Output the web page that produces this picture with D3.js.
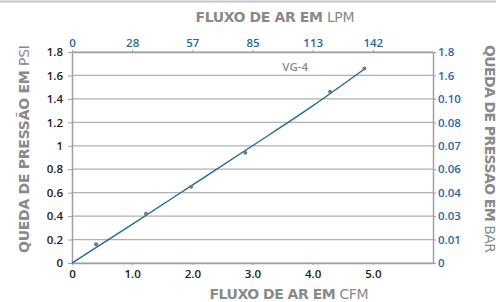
<!DOCTYPE html>
<html>
<head>
<meta charset="utf-8">
<script src="https://cdn.jsdelivr.net/npm/d3@7"></script>
<style>
  body { margin: 0; background: #fff; }
  text { font-family: "Open Sans", sans-serif; }
  .axis-left text, .axis-bottom text { fill: #222; font-size: 11.5px; font-weight: 600; }
  .axis-top text, .axis-right text { fill: #1f6aa5; font-size: 11.5px; font-weight: 600; }
  .axis-title { fill: #8a8a8a; font-family: "DejaVu Sans", sans-serif; font-weight: 700; }
</style>
</head>
<body>
<div id="chart"></div>
<script>
// Data
const cfmTicks = [0, 1, 2, 3, 4, 5];
const cfmLabels = ["0", "1.0", "2.0", "3.0", "4.0", "5.0"];
const lpmLabels = ["0", "28", "57", "85", "113", "142"];
const psiTicks = [0, 0.2, 0.4, 0.6, 0.8, 1, 1.2, 1.4, 1.6, 1.8];
const psiLabels = ["0", "0.2", "0.4", "0.6", "0.8", "1", "1.2", "1.4", "1.6", "1.8"];
const barLabels = ["0", "0.01", "0.03", "0.04", "0.06", "0.07", "0.08", "0.10", "1.6", "1.8"];

const pointsCfm = [0.40, 1.23, 1.98, 2.88, 4.29, 4.86];
const pointsPsi = [0.16, 0.42, 0.65, 0.94, 1.46, 1.66];

const lineCfm = [0, 1, 2, 3, 4, 4.86];
const linePsi = [0, 0.33, 0.665, 1.0, 1.34, 1.655];

const seriesName = "VG-4";

// Dimensions
const width = 496;
const height = 302;
const margin = { top: 52, right: 63, bottom: 39, left: 72 };
const innerWidth = width - margin.left - margin.right;
const innerHeight = height - margin.top - margin.bottom;

const svg = d3.select("#chart")
  .append("svg")
    .attr("width", width)
    .attr("height", height);

// top border line of the picture
svg.append("line")
  .attr("x1", 0).attr("x2", width)
  .attr("y1", 1.5).attr("y2", 1.5)
  .attr("stroke", "#c4c4c4")
  .attr("stroke-width", 2);

const innerChart = svg.append("g")
  .attr("transform", `translate(${margin.left}, ${margin.top})`);

// Scales
const xScale = d3.scaleLinear()
  .domain([0, 6])
  .range([0, innerWidth]);

const yScale = d3.scaleLinear()
  .domain([0, 1.8])
  .range([innerHeight, 0]);

// Gridlines
innerChart.append("g")
  .selectAll("line")
  .data(psiTicks)
  .join("line")
    .attr("x1", 0)
    .attr("x2", innerWidth)
    .attr("y1", d => yScale(d))
    .attr("y2", d => yScale(d))
    .attr("stroke", "#b0b0b0")
    .attr("stroke-width", 1.2);

// Axes
const styleAxis = g => {
  g.select(".domain").attr("stroke", "#a0a0a0").attr("stroke-width", 1.5);
  g.selectAll(".tick line").attr("stroke", "#a0a0a0");
};

innerChart.append("g")
  .attr("class", "axis-left")
  .call(d3.axisLeft(yScale).tickValues(psiTicks)
    .tickFormat((d, i) => psiLabels[i]).tickSize(4).tickPadding(5).tickSizeOuter(0))
  .call(styleAxis);

innerChart.append("g")
  .attr("class", "axis-right")
  .attr("transform", `translate(${innerWidth}, 0)`)
  .call(d3.axisRight(yScale).tickValues(psiTicks)
    .tickFormat((d, i) => barLabels[i]).tickSize(3).tickPadding(2).tickSizeOuter(0))
  .call(styleAxis);

innerChart.append("g")
  .attr("class", "axis-bottom")
  .attr("transform", `translate(0, ${innerHeight})`)
  .call(d3.axisBottom(xScale).tickValues(cfmTicks)
    .tickFormat((d, i) => cfmLabels[i]).tickSize(2).tickPadding(5).tickSizeOuter(0))
  .call(styleAxis);

innerChart.append("g")
  .attr("class", "axis-top")
  .call(d3.axisTop(xScale).tickValues(cfmTicks)
    .tickFormat((d, i) => lpmLabels[i]).tickSize(2).tickPadding(3).tickSizeOuter(0))
  .call(styleAxis);

// Trend line
const lineData = lineCfm.map((x, i) => ({ x, y: linePsi[i] }));
const curveGenerator = d3.line()
  .x(d => xScale(d.x))
  .y(d => yScale(d.y))
  .curve(d3.curveMonotoneX);

innerChart.append("path")
  .attr("d", curveGenerator(lineData))
  .attr("fill", "none")
  .attr("stroke", "#1f6aa5")
  .attr("stroke-width", 1.4);

// Data points
innerChart.selectAll(".data-point")
  .data(pointsCfm.map((x, i) => ({ x, y: pointsPsi[i] })))
  .join("circle")
    .attr("class", "data-point")
    .attr("r", 2)
    .attr("cx", d => xScale(d.x))
    .attr("cy", d => yScale(d.y))
    .attr("fill", "#777");

// Series label
innerChart.append("text")
  .attr("x", xScale(3.71))
  .attr("y", yScale(1.66))
  .attr("text-anchor", "middle")
  .attr("dominant-baseline", "middle")
  .attr("fill", "#8a8a8a")
  .attr("font-size", 11.5)
  .attr("font-weight", 600)
  .text(seriesName);

// Axis titles
const addTitle = (x, y, angle, size, len, boldPart, lightPart) => {
  const t = svg.append("text")
    .attr("class", "axis-title")
    .attr("transform", `translate(${x}, ${y}) rotate(${angle})`)
    .attr("x", -len / 2)
    .attr("font-size", size)
    .attr("dominant-baseline", "middle")
    .attr("textLength", len)
    .attr("lengthAdjust", "spacing");
  t.append("tspan").text(boldPart);
  t.append("tspan").attr("font-weight", 400).text(lightPart);
  return t;
};

addTitle(275, 18, 0, 14, 159, "FLUXO DE AR EM ", "LPM");
addTitle(289, 295, 0, 14, 159, "FLUXO DE AR EM ", "CFM");
addTitle(25, 149, -90, 14, 208, "QUEDA DE PRESSÃO EM ", "PSI");
addTitle(489, 149, 90, 14, 208, "QUEDA DE PRESSÃO EM ", "BAR");
</script>
</body>
</html>
